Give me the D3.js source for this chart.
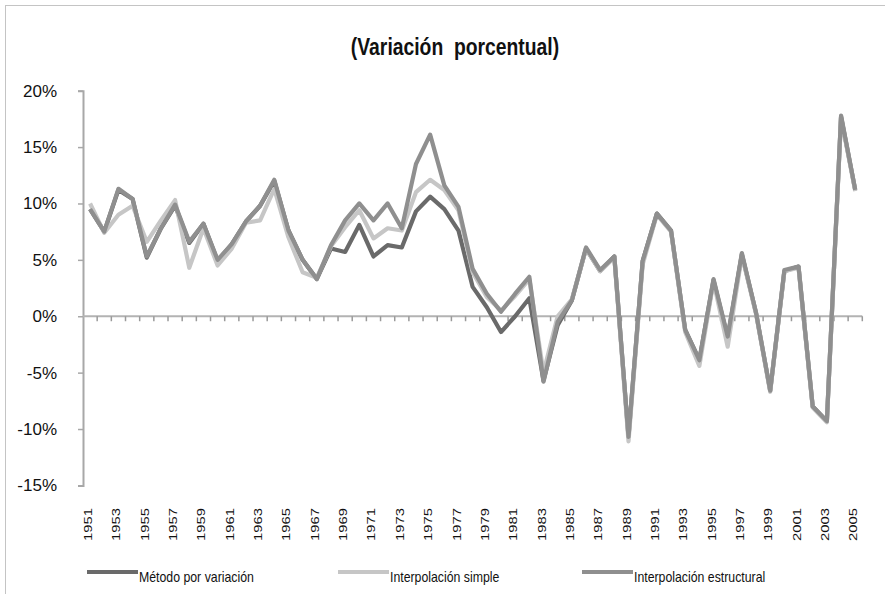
<!DOCTYPE html>
<html>
<head>
<meta charset="utf-8">
<script src="https://cdn.jsdelivr.net/npm/d3@7"></script>
<style>
  body { margin: 0; background: #fff; }
  svg { display: block; }
  text { font-family: "Liberation Sans", Arial, sans-serif; fill: #111; }
</style>
</head>
<body>
<svg id="chart" width="885" height="594"></svg>
<script>
// years 1951-2005
const years = d3.range(1951, 2006);

const metodoVariacion = [
  9.5, 7.5, 11.2, 10.4, 5.2, 7.8, 9.8, 6.5, 8.2, 4.9,
  6.4, 8.4, 9.8, 12.0, 7.6, 5.0, 3.3, 6.0, 5.7, 8.1,
  5.3, 6.3, 6.1, 9.3, 10.6, 9.5, 7.6, 2.6, 0.8, -1.4,
  0.0, 1.6, -5.7, -0.8, 1.4, 6.0, 4.0, 5.3, -10.7, 4.9,
  9.1, 7.6, -1.2, -3.9, 3.2, -1.9, 5.5, 0.3, -6.6, 4.0,
  4.4, -8.0, -9.3, 17.7, 11.2
];

const interpolacionSimple = [
  10.0, 7.4, 9.0, 9.8, 6.6, 8.5, 10.3, 4.3, 7.8, 4.5,
  6.0, 8.3, 8.5, 11.3, 7.0, 3.9, 3.4, 6.2, 7.9, 9.4,
  6.9, 7.8, 7.6, 11.0, 12.1, 11.2, 9.4, 3.9, 1.7, 0.5,
  1.8, 3.3, -5.0, 0.0, 1.5, 6.0, 4.0, 5.2, -11.1, 4.6,
  9.0, 7.5, -1.4, -4.4, 3.1, -2.7, 5.4, 0.2, -6.7, 4.0,
  4.3, -8.1, -9.4, 17.6, 11.1
];

const interpolacionEstructural = [
  9.5, 7.5, 11.3, 10.4, 5.3, 7.8, 9.9, 6.6, 8.2, 5.0,
  6.4, 8.4, 9.8, 12.1, 7.6, 5.0, 3.3, 6.3, 8.5, 10.0,
  8.5, 10.0, 7.8, 13.5, 16.1, 11.6, 9.7, 4.2, 2.0, 0.4,
  2.0, 3.5, -5.8, -0.5, 1.4, 6.1, 4.1, 5.3, -10.7, 4.9,
  9.1, 7.6, -1.2, -3.9, 3.3, -1.8, 5.6, 0.3, -6.6, 4.1,
  4.4, -8.0, -9.3, 17.8, 11.2
];

const yTicks = [-15, -10, -5, 0, 5, 10, 15, 20];

const series = [
  { name: 'Método por variación', values: metodoVariacion, color: '#6a6a6a', lx: 87 },
  { name: 'Interpolación simple', values: interpolacionSimple, color: '#c6c6c6', lx: 338 },
  { name: 'Interpolación estructural', values: interpolacionEstructural, color: '#8f8f8f', lx: 582 }
];

const svg = d3.select('#chart');
const plot = { left: 83, right: 862.3, top: 90.7, bottom: 485.4 };

// squeeze text like a narrow face (no Arial Narrow here)
const narrow = (sel, k) => {
  sel.each(function () {
    const w = this.getComputedTextLength();
    d3.select(this).attr('textLength', w * k).attr('lengthAdjust', 'spacingAndGlyphs');
  });
};

// chart border
svg.append('rect')
  .attr('x', 5.5).attr('y', 5.5)
  .attr('width', 885).attr('height', 600)
  .attr('fill', 'none').attr('stroke', '#c4c4c4');

const x = d3.scaleBand().domain(years).range([plot.left, plot.right]).paddingInner(0).paddingOuter(0);
const y = d3.scaleLinear().domain([-15, 20]).range([plot.bottom, plot.top]);
const cx = (yr) => x(yr) + x.bandwidth() / 2;

// title
svg.append('text')
  .attr('x', 455).attr('y', 55)
  .attr('text-anchor', 'middle')
  .style('font-size', '23px')
  .style('font-weight', 'bold')
  .style('white-space', 'pre')
  .text('(Variación  porcentual)')
  .call(narrow, 0.84);

// y axis
const yAxis = svg.append('g')
  .attr('transform', 'translate(' + plot.left + ',0)')
  .call(d3.axisLeft(y).tickValues(yTicks).tickSize(5).tickPadding(21)
    .tickFormat((d) => d + '%'));
yAxis.select('.domain').attr('stroke', '#a8a8a8').attr('stroke-width', 2);
yAxis.selectAll('.tick line').attr('stroke', '#a8a8a8').attr('stroke-width', 1.5);
yAxis.selectAll('.tick text')
  .style('font-size', '17px')
  .style('font-family', '"Liberation Sans", Arial, sans-serif')
  .attr('fill', '#111');

// zero line with category ticks
const zero = svg.append('g');
zero.append('line')
  .attr('x1', plot.left).attr('x2', plot.right)
  .attr('y1', y(0)).attr('y2', y(0))
  .attr('stroke', '#b3b3b3').attr('stroke-width', 2);
zero.selectAll('line.tk')
  .data(years.slice(1).concat(['end']))
  .enter()
  .append('line')
  .attr('class', 'tk')
  .attr('x1', (d) => (d === 'end' ? plot.right : x(d)))
  .attr('x2', (d) => (d === 'end' ? plot.right : x(d)))
  .attr('y1', y(0)).attr('y2', y(0) + 5)
  .attr('stroke', '#9a9a9a').attr('stroke-width', 1.5);

// year labels, every other year, at the bottom
svg.selectAll('text.yr')
  .data(years.filter((d, i) => i % 2 === 0))
  .enter()
  .append('text')
  .attr('class', 'yr')
  .attr('transform', (d) => 'translate(' + (cx(d) - 2) + ',508)rotate(-90)')
  .attr('text-anchor', 'end')
  .attr('dy', '0.35em')
  .attr('textLength', 33)
  .attr('lengthAdjust', 'spacingAndGlyphs')
  .style('font-size', '11.5px')
  .attr('fill', '#000')
  .text((d) => d);

// lines
const line = d3.line()
  .x((d, i) => cx(years[i]))
  .y((d) => y(d));

svg.selectAll('path.serie')
  .data(series)
  .enter()
  .append('path')
  .attr('class', 'serie')
  .attr('d', (d) => line(d.values))
  .attr('fill', 'none')
  .attr('stroke', (d) => d.color)
  .attr('stroke-width', 4.2)
  .attr('stroke-linejoin', 'round');

// legend
const legend = svg.selectAll('g.leg')
  .data(series)
  .enter()
  .append('g')
  .attr('class', 'leg')
  .attr('transform', (d) => 'translate(' + d.lx + ',572)');
legend.append('line')
  .attr('x1', 0).attr('x2', 51)
  .attr('stroke', (d) => d.color)
  .attr('stroke-width', 4);
legend.append('text')
  .attr('x', 52).attr('y', 10)
  .style('font-size', '15px')
  .text((d) => d.name)
  .call(narrow, 0.82);
</script>
</body>
</html>
